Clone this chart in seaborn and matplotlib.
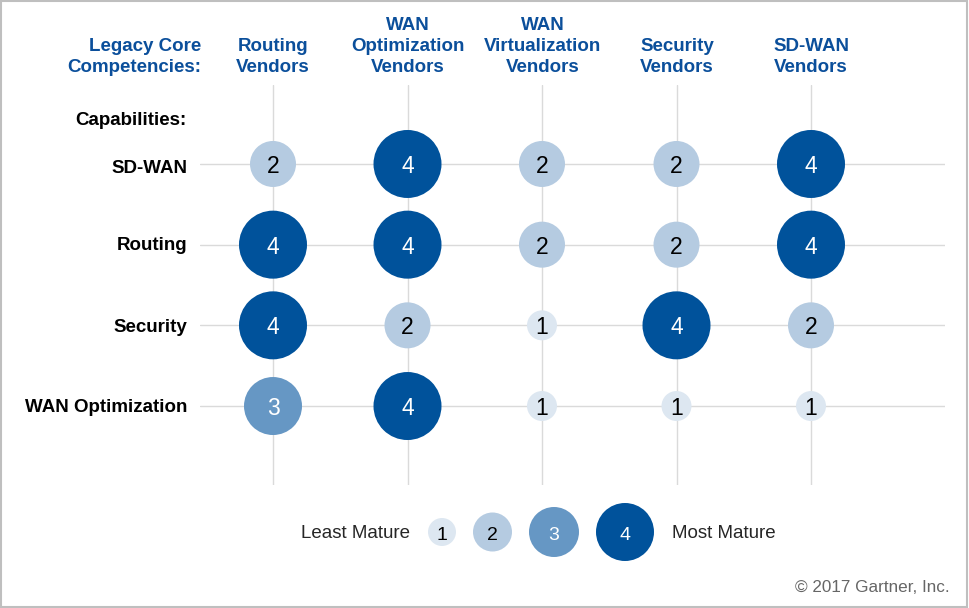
import numpy as np
import pandas as pd
import seaborn as sns
import matplotlib.pyplot as plt
from matplotlib.patches import Rectangle

# Data
vendors = ["Routing\nVendors", "WAN\nOptimization\nVendors", "WAN\nVirtualization\nVendors",
           "Security\nVendors", "SD-WAN\nVendors"]
capabilities = ["SD-WAN", "Routing", "Security", "WAN Optimization"]
sdwan_scores = [2, 4, 2, 2, 4]
routing_scores = [4, 4, 2, 2, 4]
security_scores = [4, 2, 1, 4, 2]
wanopt_scores = [3, 4, 1, 1, 1]
levels = [1, 2, 3, 4]

# Styling
level_colors = {1: "#DDE7F1", 2: "#B5CBE1", 3: "#6697C4", 4: "#00529B"}
text_colors = {1: "black", 2: "black", 3: "white", 4: "white"}
main_diam_px = {1: 30, 2: 46, 3: 58, 4: 68}
legend_diam_px = {1: 28, 2: 39, 3: 50, 4: 58}
blue = "#0B4F9B"

def px_to_s(d):
    return (d * 0.72) ** 2

sns.set_style("white")
plt.rcParams['font.family'] = ['Liberation Sans', 'DejaVu Sans']

W, H = 969, 608
fig = plt.figure(figsize=(W / 100, H / 100), dpi=100)

# long-form table
rows = []
for j, scores in enumerate([sdwan_scores, routing_scores, security_scores, wanopt_scores]):
    for i in range(len(vendors)):
        rows.append({"vendor": i, "capability": j, "score": scores[i]})
df = pd.DataFrame(rows)

# main grid axes
left, right, top, bottom = 200, 945, 85, 485
ax = fig.add_axes([left / W, 1 - bottom / H, (right - left) / W, (bottom - top) / H])
sns.scatterplot(data=df, x="vendor", y="capability", hue="score", size="score",
                palette=level_colors, sizes={k: px_to_s(d) for k, d in main_diam_px.items()},
                linewidth=0, legend=False, ax=ax, zorder=3)
ax.set_xlim(-(273 - left) / 134.5, 4 + (right - 811) / 134.5)
ax.set_ylim(3 + (bottom - 406) / 80.7, -(164 - top) / 80.7)
ax.set_xticks(range(len(vendors)))
ax.set_yticks(range(len(capabilities)))
ax.grid(True, color="#DADADA", linewidth=1)
ax.set_axisbelow(True)
ax.tick_params(length=0, labelbottom=False, labelleft=False)
for s in ax.spines.values():
    s.set_visible(False)
ax.set_xlabel("")
ax.set_ylabel("")

for _, r in df.iterrows():
    ax.text(r["vendor"], r["capability"] + 0.03, str(r["score"]), ha="center", va="center",
            fontsize=16.5, color=text_colors[r["score"]], zorder=4)

# row labels
row_y = [168, 246, 327, 408]
for y, cap in zip(row_y, capabilities):
    fig.text(187 / W, 1 - y / H, cap, ha="right", va="center", fontsize=13.5,
             fontweight="bold", color="black")
fig.text(187 / W, 1 - 120 / H, "Capabilities:", ha="right", va="center", fontsize=13.5,
         fontweight="bold", color="black")

# column headers
col_x = [273, 408, 543, 677, 811]
for x, v in zip(col_x, vendors):
    fig.text(x / W, 1 - 76 / H, v, ha="center", va="bottom", fontsize=13.5,
             fontweight="bold", color=blue, linespacing=1.32, multialignment="center")
fig.text(201 / W, 1 - 76 / H, "Legacy Core\nCompetencies:", ha="right", va="bottom",
         fontsize=13.5, fontweight="bold", color=blue, linespacing=1.32, multialignment="right")

# legend
lax = fig.add_axes([0, 0, 1, 1])
lax.set_xlim(0, W)
lax.set_ylim(H, 0)
lax.axis("off")
gap = 17
centers = []
xpos = 428
for lv in levels:
    d = legend_diam_px[lv]
    centers.append(xpos + d / 2)
    xpos += d + gap
leg = pd.DataFrame({"x": centers, "y": [532] * 4, "score": levels})
sns.scatterplot(data=leg, x="x", y="y", hue="score", size="score", palette=level_colors,
                sizes={k: px_to_s(d) for k, d in legend_diam_px.items()},
                linewidth=0, legend=False, ax=lax)
lax.set_xlabel("")
lax.set_ylabel("")
for cx, lv in zip(centers, levels):
    lax.text(cx, 535, str(lv), ha="center", va="center", fontsize=14, color=text_colors[lv])
lax.text(410, 534, "Least Mature", ha="right", va="center", fontsize=13.5)
lax.text(672, 534, "Most Mature", ha="left", va="center", fontsize=13.5)
lax.text(950, 587, "\u00a9 2017 Gartner, Inc.", ha="right", va="center", fontsize=12.3,
         color="#666666")

# border
fig.patches.append(Rectangle((0.001, 0.002), 0.997, 0.996, transform=fig.transFigure,
                             fill=False, edgecolor="#BFBFBF", linewidth=1.5))

fig.savefig("out.png", dpi=100)
